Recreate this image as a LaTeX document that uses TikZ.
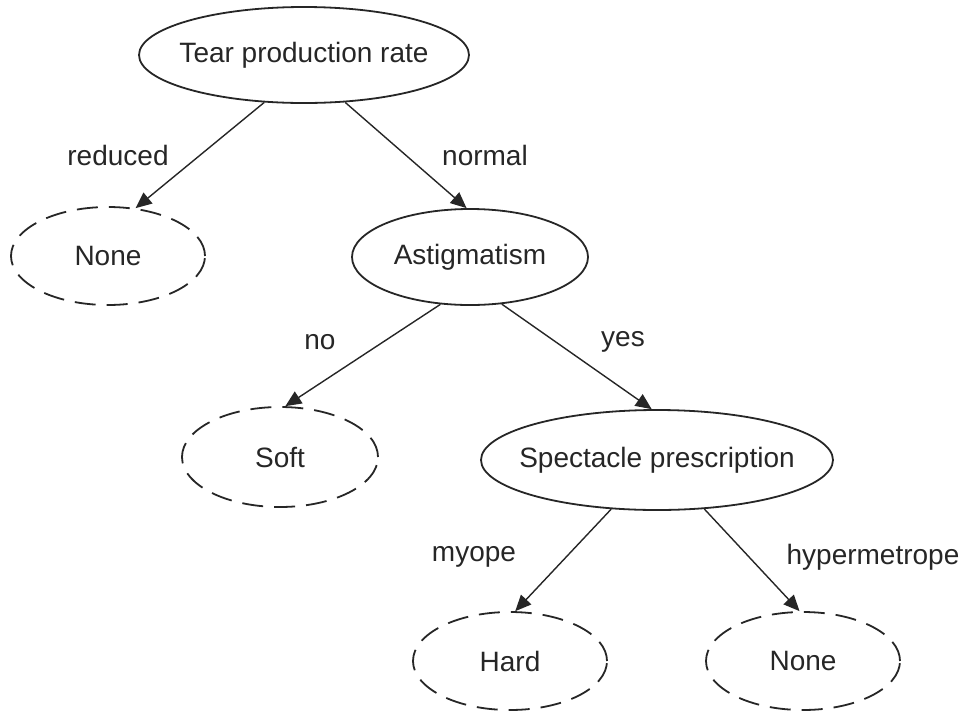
\documentclass[tikz,border=0pt]{standalone}
\usepackage{fontspec}
\setmainfont{Liberation Sans}
\usetikzlibrary{shapes.geometric,arrows.meta}
\definecolor{ink}{HTML}{262626}
\begin{document}
\begin{tikzpicture}[x=1pt,y=-1pt,
  every node/.style={font=\fontsize{28}{34}\selectfont, text=ink},
  test/.style={ellipse, draw=ink, line width=1.8pt, inner sep=0pt},
  leaf/.style={ellipse, draw=ink, line width=1.8pt, inner sep=0pt, dash pattern=on 21pt off 11pt},
  branch/.style={draw=ink, line width=1.4pt, -{Triangle[length=16pt,width=14pt]}},
  lbl/.style={inner sep=0pt}]
\path[use as bounding box] (0,0) rectangle (967,713);

% decision and leaf nodes (negative xsep keeps wide labels inside the fixed ellipse size)
\node[test, inner xsep=-10pt, minimum width=330pt, minimum height=96pt] (tear) at (304,55) {Tear production rate};
\node[leaf, minimum width=194pt, minimum height=98pt] (none1) at (108,256) {None};
\node[test, minimum width=236pt, minimum height=96pt] (astig) at (470,257) {Astigmatism};
\node[leaf, minimum width=196pt, minimum height=100pt] (soft) at (280,457) {Soft};
\node[test, inner xsep=-16pt, minimum width=352pt, minimum height=100pt] (spec) at (657,460) {Spectacle prescription};
\node[leaf, minimum width=194pt, minimum height=98pt] (hard) at (510,661) {Hard};
\node[leaf, minimum width=194pt, minimum height=98pt] (none2) at (803,661) {None};

% branches
\draw[branch] (tear.230) -- (none1.60);
\draw[branch] (tear.311) -- (astig.94);
\draw[branch] (astig.238) -- (soft.84);
\draw[branch] (astig.304) -- (spec.96);
\draw[branch] (spec.227) -- (hard.84);
\draw[branch] (spec.314) -- (none2.94);

% branch labels
\node[lbl] (lred) at (118,155) {reduced};
\node[lbl] (lnorm) at (485,155) {normal};
\node[lbl] (lno) at (320,342) {no};
\node[lbl] (lyes) at (623,342) {yes};
\node[lbl] (lmyo) at (474,557) {myope};
\node[lbl] (lhyp) at (873,557) {hypermetrope};
\end{tikzpicture}
\end{document}
